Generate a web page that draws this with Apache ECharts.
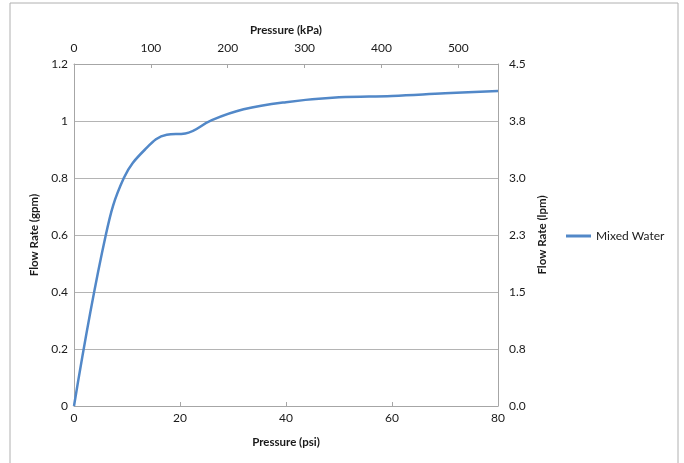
<!DOCTYPE html>
<html>
<head>
<meta charset="utf-8">
<script src="https://cdn.jsdelivr.net/npm/echarts@6/dist/echarts.min.js"></script>
<style>html,body{margin:0;padding:0;background:#fff}#c{width:684px;height:463px}</style>
</head>
<body>
<div id="c"></div>
<script>
const seriesName = 'Mixed Water';
const pressurePsi = [0, 6, 9.4, 13.4, 17.5, 21, 26, 32, 40, 50, 60, 70, 80];
const flowGpm =     [0, 0.6, 0.8, 0.9, 0.952, 0.956, 1.003, 1.041, 1.066, 1.083, 1.088, 1.097, 1.105];
const psiMax = 80, gpmMax = 1.2;
const kPaPerPsi = 6.894757, lpmPerGpm = 3.785412;

const font = 'Lato, "Open Sans", sans-serif';
const axisCol = '#a6a6a6';
const txt = '#1a1a1a';
const lineCol = '#5288C8';
const lab = {fontFamily: font, fontSize: 12, color: txt};
const nm = {fontFamily: font, fontSize: 11.5, fontWeight: 'bold', color: txt};
const chart = echarts.init(document.getElementById('c'));
chart.setOption({
  animation: false,
  textStyle: {fontFamily: font},
  graphic: [{type: 'rect', shape: {x: 10, y: 3, width: 668, height: 480}, style: {fill: 'none', stroke: '#b0b0b0', lineWidth: 1}, z: -1}],
  grid: {left: 74, right: 186, top: 64, bottom: 57},
  legend: {
    data: [{name: seriesName, icon: 'rect'}], left: 561, top: 225, itemWidth: 25, itemHeight: 3, itemGap: 2,
    textStyle: {fontFamily: font, fontSize: 12, color: txt}
  },
  xAxis: [{
    type: 'value', position: 'bottom', min: 0, max: psiMax, interval: 20,
    name: 'Pressure (psi)', nameLocation: 'middle', nameGap: 30, nameTextStyle: nm,
    axisLine: {onZero: false, lineStyle: {color: axisCol}},
    axisTick: {inside: true, length: 4, lineStyle: {color: axisCol}},
    minorTick: {show: false},
    axisLabel: Object.assign({margin: 6}, lab),
    splitLine: {show: false}
  }, {
    type: 'value', position: 'top', min: 0, max: psiMax * kPaPerPsi, interval: 100,
    name: 'Pressure (kPa)', nameLocation: 'middle', nameGap: 28, nameTextStyle: nm,
    axisLine: {onZero: false, lineStyle: {color: axisCol}},
    axisTick: {inside: true, length: 4, lineStyle: {color: axisCol}},
    minorTick: {show: false},
    axisLabel: Object.assign({margin: 10, formatter: v => (Math.abs(v % 100) < 1e-6 ? String(v) : '')}, lab),
    splitLine: {show: false}
  }],
  yAxis: [{
    type: 'value', position: 'left', min: 0, max: gpmMax, interval: 0.2,
    name: 'Flow Rate (gpm)', nameLocation: 'middle', nameGap: 33, nameTextStyle: nm,
    axisLine: {show: true, onZero: false, lineStyle: {color: axisCol}}, axisTick: {show: false},
    axisLabel: Object.assign({margin: 6}, lab),
    splitLine: {show: true, lineStyle: {color: '#b4b4b4', width: 1}}
  }, {
    type: 'value', position: 'right', min: 0, max: gpmMax * lpmPerGpm, interval: gpmMax * lpmPerGpm / 6,
    name: 'Flow Rate (lpm)', nameLocation: 'middle', nameGap: 37, nameTextStyle: nm,
    axisLine: {show: true, onZero: false, lineStyle: {color: axisCol}}, axisTick: {show: false},
    axisLabel: Object.assign({margin: 11, formatter: v => v.toFixed(1)}, lab),
    splitLine: {show: false}
  }],
  series: [{
    name: seriesName, type: 'line', xAxisIndex: 0, yAxisIndex: 0,
    data: pressurePsi.map((p, i) => [p, flowGpm[i]]),
    smooth: 0.4, symbol: 'none', showSymbol: false,
    lineStyle: {color: lineCol, width: 2.5}, itemStyle: {color: lineCol}
  }]
});
</script>
</body>
</html>
